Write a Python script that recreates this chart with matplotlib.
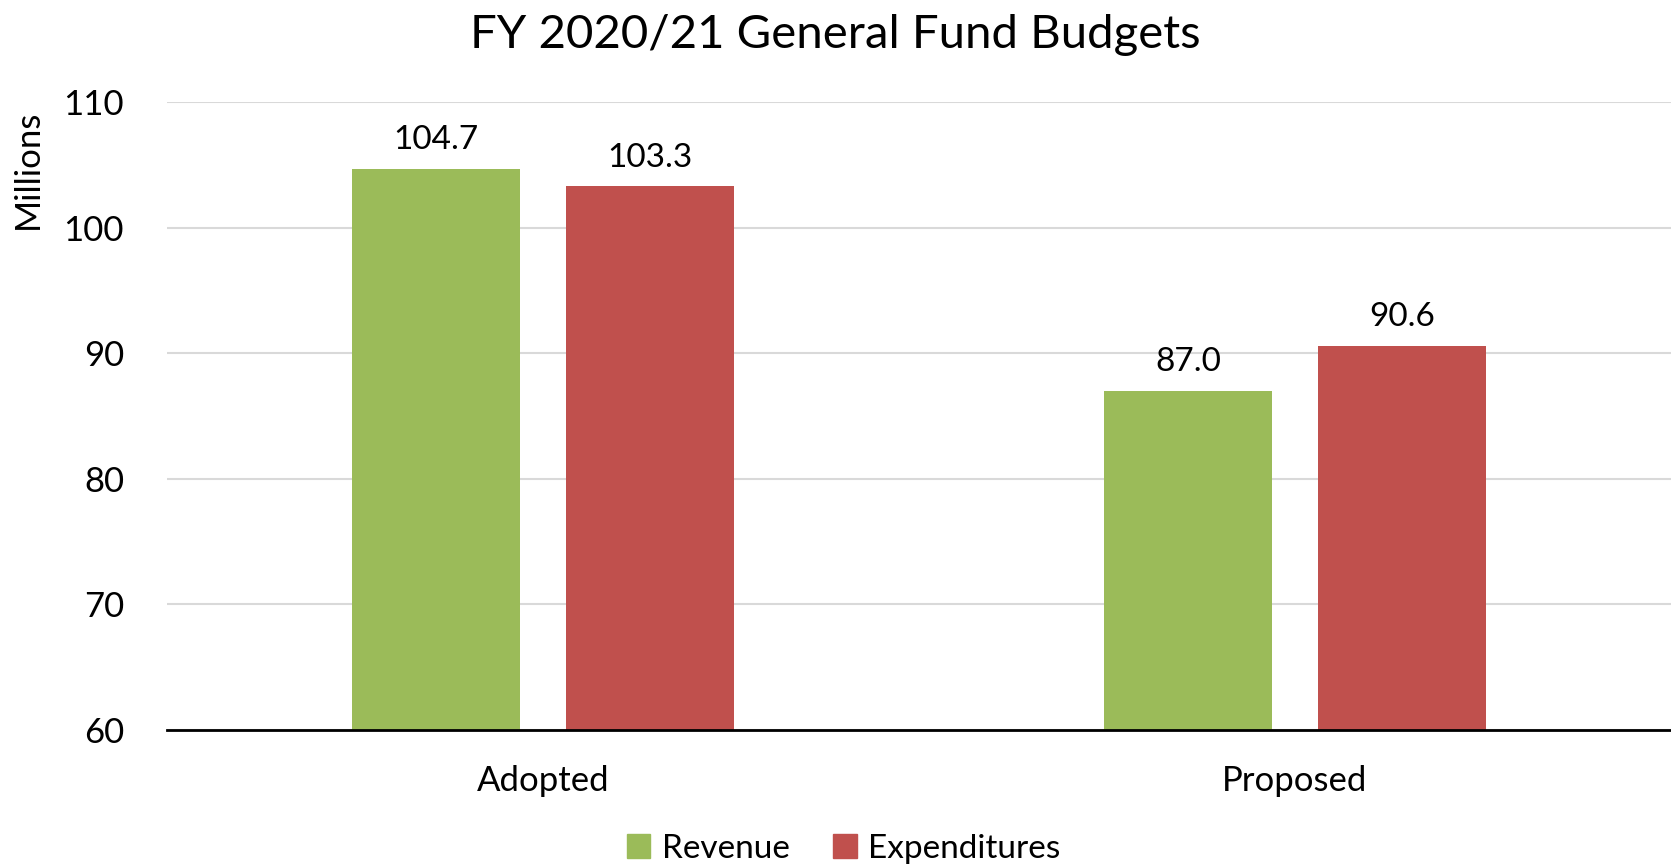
import numpy as np
import matplotlib.pyplot as plt
from matplotlib.patches import Patch

plt.rcParams['font.family'] = ['Lato', 'DejaVu Sans']

CATEGORIES = ['Adopted', 'Proposed']
REVENUE = [104.7, 87.0]
EXPENDITURES = [103.3, 90.6]
SERIES_NAMES = ['Revenue', 'Expenditures']
Y_TICKS = [60, 70, 80, 90, 100, 110]

GREEN = '#9BBB59'
RED = '#C0504D'

fig = plt.figure(figsize=(16.71, 8.67), dpi=100)
ax = fig.add_axes([0.1, 0.158, 0.9, 0.724])

x = np.arange(len(CATEGORIES))
width = 0.224
offset = 0.1425

bars_rev = ax.bar(x - offset, REVENUE, width, bottom=0, color=GREEN, zorder=3)
bars_exp = ax.bar(x + offset, EXPENDITURES, width, bottom=0, color=RED, zorder=3)

for bars, vals in ((bars_rev, REVENUE), (bars_exp, EXPENDITURES)):
    for b, v in zip(bars, vals):
        ax.annotate(f'{v:.1f}', xy=(b.get_x() + b.get_width() / 2, v),
                    xytext=(0, 10), textcoords='offset points',
                    ha='center', va='bottom', fontsize=24)

ax.set_xlim(-0.5, 1.5)
ax.set_ylim(60, 110)
ax.set_yticks(Y_TICKS)
ax.set_xticks(x)
ax.set_xticklabels(CATEGORIES)
ax.tick_params(axis='both', length=0, labelsize=25)
ax.tick_params(axis='x', pad=25)
ax.tick_params(axis='y', pad=31)

ax.grid(axis='y', color='#D9D9D9', lw=1.5, zorder=0)
for s in ('top', 'right', 'left'):
    ax.spines[s].set_visible(False)
ax.spines['bottom'].set_color('black')
ax.spines['bottom'].set_linewidth(2)
ax.spines['bottom'].set_zorder(4)

ax.set_ylabel('Millions', fontsize=25)
ax.yaxis.set_label_coords(-0.082, 0.893)

fig.suptitle('FY 2020/21 General Fund Budgets', fontsize=34, y=0.984, x=0.5)

handles = [Patch(color=GREEN, label=SERIES_NAMES[0]),
           Patch(color=RED, label=SERIES_NAMES[1])]
fig.legend(handles=handles, loc='center', bbox_to_anchor=(0.505, 0.021), ncol=2,
           frameon=False, fontsize=24, handlelength=0.7, handleheight=0.7,
           handletextpad=0.35, columnspacing=1.3)

fig.savefig('out.png', dpi=100)
